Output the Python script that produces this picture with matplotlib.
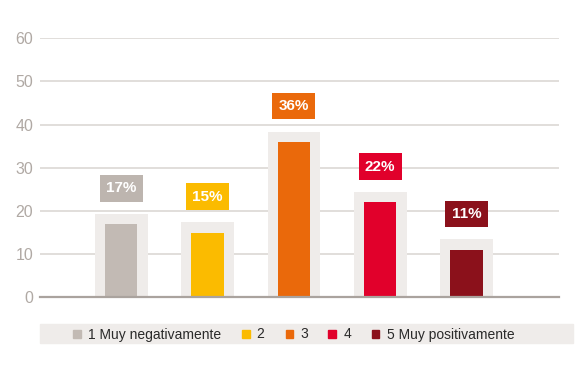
import matplotlib.pyplot as plt
from matplotlib.patches import Rectangle

categories = ['1 Muy negativamente', '2', '3', '4', '5 Muy positivamente']
values = [17, 15, 36, 22, 11]
labels = ['17%', '15%', '36%', '22%', '11%']
colors = ['#c2bab4', '#fbbb00', '#ea690b', '#e1002b', '#8b111b']
box_colors = ['#bdb5af', '#fbbb00', '#ea690b', '#e1002b', '#8b111b']
yticks = [0, 10, 20, 30, 40, 50, 60]

plt.rcParams['font.family'] = ['Liberation Sans', 'DejaVu Sans']

fig = plt.figure(figsize=(5.85, 3.87), dpi=100)
ax = fig.add_axes([40 / 585, 89.7 / 387, 519 / 585, 259 / 387])

x = list(range(len(values)))
bg = [v + 2.4 for v in values]
ax.bar(x, bg, width=0.61, color='#efecea', zorder=2)
ax.bar(x, values, width=0.375, color=colors, zorder=3)

for xi, v, lab, c in zip(x, values, labels, box_colors):
    ax.text(xi, v + 8.3, lab, ha='center', va='center', color='white',
            fontsize=11, fontweight='bold', zorder=4,
            bbox=dict(boxstyle='square,pad=0.42', fc=c, ec='none'))

ax.set_xlim(-0.94, 5.07)
ax.set_ylim(0, 60)
ax.set_yticks(yticks)
ax.set_xticks([])
ax.yaxis.grid(True, color='#dedbd8', linewidth=1.3, zorder=0)
ax.set_axisbelow(True)
for s in ['top', 'right', 'left']:
    ax.spines[s].set_visible(False)
ax.spines['bottom'].set_color('#aaa39e')
ax.spines['bottom'].set_linewidth(1.6)
ax.spines['bottom'].set_zorder(5)
ax.tick_params(axis='y', length=0, pad=5, labelsize=11.5, labelcolor='#b0a9a4')

# legend band
fig.patches.append(Rectangle((40 / 585, 1 - 343 / 387), 533 / 585, 19 / 387,
                             transform=fig.transFigure, color='#efecea', zorder=0))
sq_x = [73.3, 242.3, 285.7, 328.3, 371.7]
tx_x = [88.3, 256.7, 300.0, 343.3, 386.7]
for sx, tx, c, name in zip(sq_x, tx_x, colors, categories):
    fig.patches.append(Rectangle((sx / 585, 1 - 337.5 / 387), 7.5 / 585, 7.5 / 387,
                                 transform=fig.transFigure, color=c, zorder=1))
    fig.text(tx / 585, 1 - 334.5 / 387, name, ha='left', va='center',
             fontsize=10, color='#2a2a2a')

fig.savefig('out.png', dpi=100)
